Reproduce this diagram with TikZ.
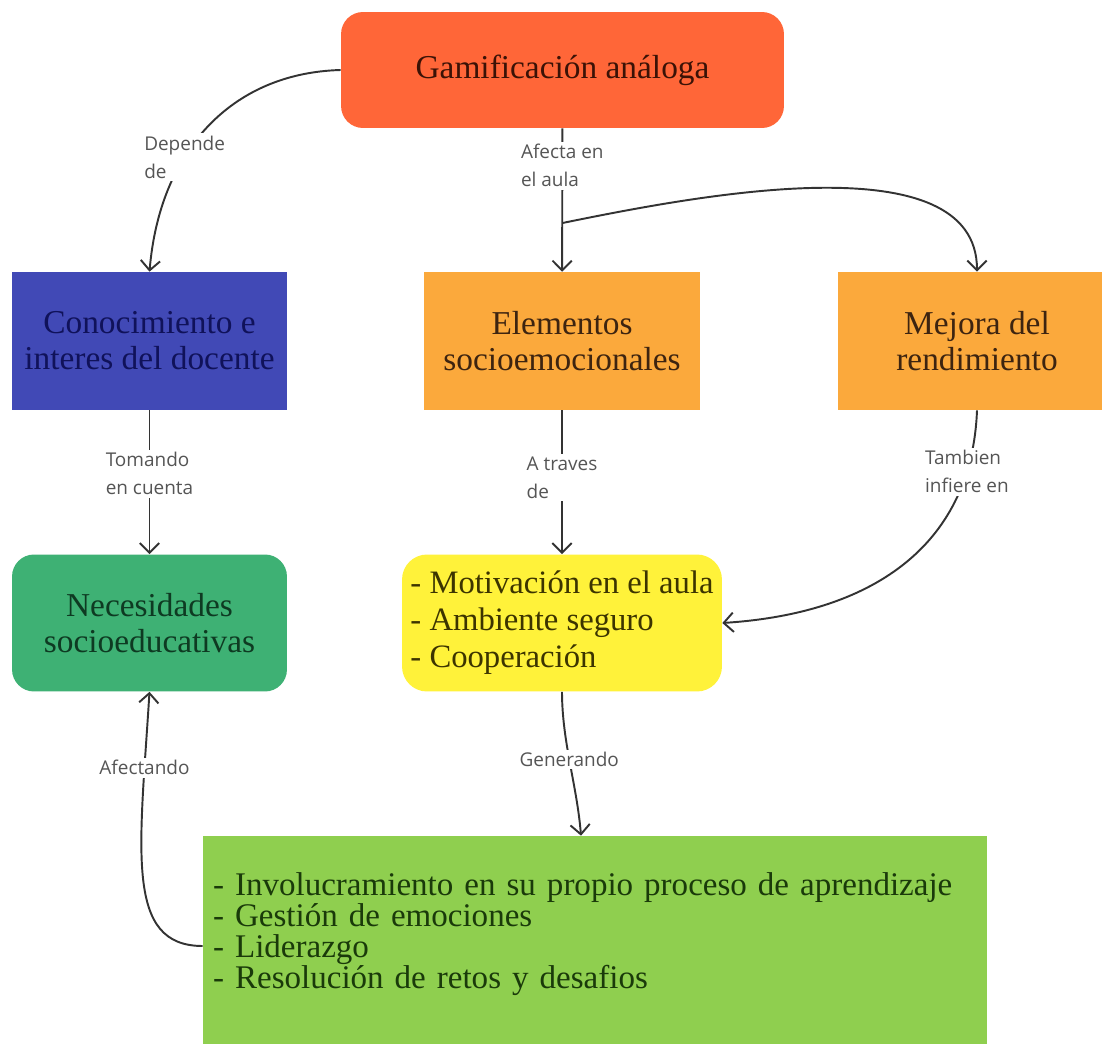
\documentclass[tikz,border=0pt]{standalone}
\usepackage{fontspec}
\setmainfont{Liberation Serif}
\newfontfamily\lblfont{Open Sans}
\usetikzlibrary{arrows.meta}

\definecolor{gamfill}{HTML}{FF6638}
\definecolor{gamtext}{HTML}{3B1206}
\definecolor{conofill}{HTML}{4149B6}
\definecolor{conotext}{HTML}{10125A}
\definecolor{orfill}{HTML}{FBA93C}
\definecolor{ortext}{HTML}{3D2410}
\definecolor{necfill}{HTML}{3EB174}
\definecolor{nectext}{HTML}{0E3A22}
\definecolor{yelfill}{HTML}{FFF23A}
\definecolor{yeltext}{HTML}{3C3400}
\definecolor{limefill}{HTML}{8FCF4F}
\definecolor{limetext}{HTML}{1A3A0A}
\definecolor{linegray}{HTML}{333333}
\definecolor{lblgray}{HTML}{555555}

\tikzset{
  box/.style={rectangle, minimum height=2.76cm, inner sep=0.15cm, align=center,
    font=\fontsize{19}{20.5}\selectfont},
  lbl/.style={fill=white, inner sep=1.5pt, align=left, text=lblgray,
    font=\lblfont\fontsize{10.8}{15.9}\selectfont},
  conn/.style={draw=linegray, line width=1.1pt, ->},
}

\begin{document}
\begin{tikzpicture}[x=0.02cm, y=-0.02cm, >={Straight Barb[length=5.5pt,width=11pt]}]
\useasboundingbox (0,0) rectangle (1102,1044);
\node[box, fill=gamfill, text=gamtext, rounded corners=0.44cm, minimum width=8.86cm, minimum height=2.32cm] (gam) at (562.5, 70) {Gamificación análoga};
\node[box, fill=conofill, text=conotext, minimum width=5.5cm] (cono) at (149.5, 341) {Conocimiento e\\interes del docente};
\node[box, fill=orfill, text=ortext, minimum width=5.52cm] (elem) at (562, 341) {Elementos\\socioemocionales};
\node[box, fill=orfill, text=ortext, minimum width=5.56cm] (mejora) at (977, 341) {Mejora del\\rendimiento};
\node[box, fill=necfill, text=nectext, rounded corners=0.44cm, minimum width=5.5cm, minimum height=2.74cm] (nec) at (149.5, 623) {Necesidades\\socioeducativas};
\node[box, fill=yelfill, text=yeltext, rounded corners=0.5cm, minimum width=6.4cm, minimum height=2.74cm,
  inner xsep=0.05cm, align=left, font=\fontsize{18.6}{21}\selectfont] (motiv) at (562, 623)
  {- Motivación en el aula\\- Ambiente seguro\\- Cooperación};
\node[box, fill=limefill, text=limetext, minimum width=15.68cm, minimum height=4.4cm,
  inner xsep=0.2cm, text width=15.28cm, align=left, font=\fontsize{18.8}{17.6}\selectfont] (logros) at (595, 946)
  {- Involucramiento en su propio proceso de aprendizaje\\- Gestión de emociones\\- Liderazgo\\- Resolución de retos y desafios\\ \mbox{}};

% conectores
\coordinate (split) at (562.5, 223);
\path[conn] (gam) edge node[lbl, pos=.26] {Afecta en\\el aula} (elem)
            (cono) edge node[lbl, pos=.44] {Tomando\\en cuenta} (nec)
            (elem) edge node[lbl, pos=.47] {A traves\\de} (motiv);
\draw[conn] (gam.west) .. controls +(-110,3) and +(10,-120) .. (cono.north)
  node[lbl, pos=.63] {Depende\\de};
\draw[conn] (split) .. controls +(137,-28) and +(0,-130) .. (mejora.north);
\draw[conn] (mejora.south) .. controls +(-5,130) and +(157,-10) .. (motiv.east)
  node[lbl, pos=.17] {Tambien\\infiere en};
\draw[conn] (motiv.south) .. controls +(0,50) and +(-4,-50) .. ([xshift=-0.28cm]logros.north)
  node[lbl, pos=.47] {Generando};
\draw[conn] (logros.west) .. controls +(-78,0) and +(-10,160) .. (nec.south)
  node[lbl, pos=.83] {Afectando};
\end{tikzpicture}
\end{document}
